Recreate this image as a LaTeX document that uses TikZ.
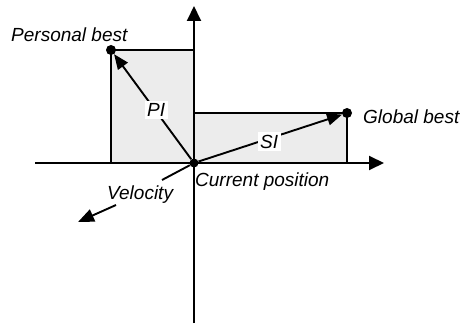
\documentclass[tikz,border=0pt]{standalone}
\usepackage{fontspec}
\setmainfont{Liberation Sans}
\usetikzlibrary{arrows.meta}
\begin{document}
\begin{tikzpicture}[x=1pt,y=-1pt,
  axis/.style={line width=2pt,-{Triangle[length=15pt,width=14pt]}},
  box/.style={draw,line width=1.4pt,fill=gray!15},
  vec/.style={line width=1.9pt,-{Triangle[length=15pt,width=12pt]}},
  seg/.style={line width=1.9pt},
  dot/.style={circle,fill=black,inner sep=0pt,minimum size=#1},
  lbl/.style={font=\fontsize{19}{22}\selectfont\itshape,inner sep=0pt,anchor=base west},
  tag/.style={lbl,fill=white,inner sep=2.5pt}]
\useasboundingbox (0,0) rectangle (468,326);
% shaded boxes
\draw[box] (111,50) rectangle (194,163);
\draw[box] (194,113) rectangle (347,163);
% axes
\coordinate (yb) at (194,323);
\coordinate (yt) at (194,6);
\coordinate (xl) at (35,163);
\coordinate (xr) at (384,163);
\draw[axis] (yb) -- (yt);
\draw[axis] (xl) -- (xr);
% points
\node[dot=9pt] (O) at (194,163) {};
\node[dot=10pt] (PB) at (111,50) {};
\node[dot=10pt] (GB) at (347,113) {};
% vectors
\draw[vec] (O) -- (PB);
\draw[vec] (O) -- (GB);
\coordinate (Va) at (162,180);
\coordinate (Vb) at (116,205);
\coordinate (V) at (78,222);
\draw[seg] (O) -- (Va);
\draw[vec,-{Triangle[length=16pt,width=13pt]}] (Vb) -- (V);
% labels
\node[tag] (pl) at (144.5,117) {PI};
\node[tag] (sl) at (257.5,148) {SI};
\node[lbl] (vl) at (107,199) {Velocity};
\node[lbl] (pbl) at (11,41.5) {Personal best};
\node[lbl] (gbl) at (363,124) {Global best};
\node[lbl] (cpl) at (195,186) {Current position};
\end{tikzpicture}
\end{document}
